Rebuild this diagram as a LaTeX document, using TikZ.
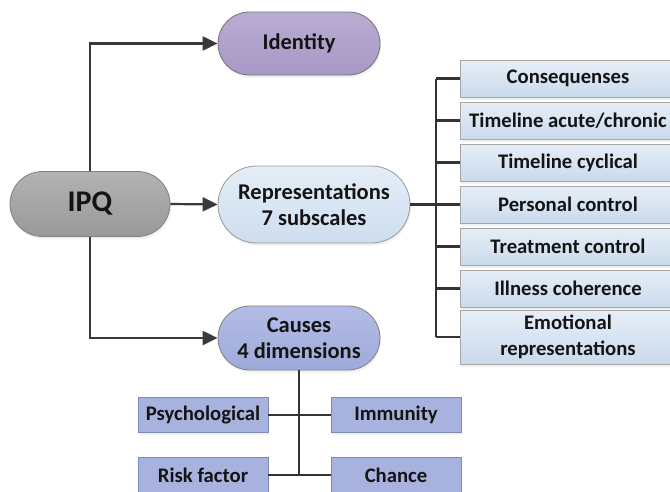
\documentclass[tikz,border=0pt]{standalone}
\usepackage{fontspec}
\setmainfont{Carlito}
\usetikzlibrary{arrows.meta,shadows}
\definecolor{txt}{HTML}{141414}
\definecolor{arr}{HTML}{3A3A3A}
\definecolor{subtop}{HTML}{E6EEF7}
\definecolor{subbot}{HTML}{C9DAEC}
\definecolor{causefill}{HTML}{A8B2DE}
\definecolor{causeedge}{HTML}{7D88B8}
\tikzset{
  shad/.style={drop shadow={opacity=0.12, shadow xshift=1pt, shadow yshift=-2.5pt}},
  pill/.style={draw=#1, line width=0.8pt, align=center, text=txt, font=\bfseries\fontsize{22.5}{25.5}\selectfont, inner sep=0pt, shad},
  subbox/.style={draw=black!35, line width=0.7pt, top color=subtop, bottom color=subbot, minimum width=216, minimum height=37, text=txt, font=\bfseries\fontsize{20.7}{24}\selectfont, align=center, inner sep=0pt, shad},
  causebox/.style={draw=causeedge, line width=0.7pt, fill=causefill, minimum width=130, minimum height=35, text=txt, font=\bfseries\fontsize{20.7}{22}\selectfont, inner sep=0pt, shad},
  arrowline/.style={draw=arr, line width=2.2pt, -{Triangle[length=15pt,width=14pt]}},
  branch/.style={draw=black!80, line width=2.2pt}
}
\begin{document}
\begin{tikzpicture}[x=1pt,y=-1pt]
\useasboundingbox (0,0) rectangle (670,491);
\clip (0,0) rectangle (670,491);
% main nodes
\node[pill=black!50, top color=black!30, bottom color=black!40, minimum width=160, minimum height=65, rounded corners=32.5pt, font=\bfseries\fontsize{30}{32}\selectfont] (ipq) at (90,204) {IPQ};
\node[pill=black!55, top color={rgb,255:red,186;green,172;blue,210}, bottom color={rgb,255:red,168;green,152;blue,198}, minimum width=162, minimum height=63, rounded corners=31.5pt] (idn) at (299,43.5) {Identity};
\node[pill=black!40, top color={rgb,255:red,228;green,237;blue,247}, bottom color={rgb,255:red,206;green,222;blue,239}, minimum width=192, minimum height=77, rounded corners=38.5pt] (rep) at (314,204.5) {Representations\\7 subscales};
\node[pill=black!50, top color={rgb,255:red,178;green,188;blue,230}, bottom color={rgb,255:red,158;green,170;blue,218}, minimum width=162, minimum height=64, rounded corners=32pt] (cau) at (299,338) {Causes\\4 dimensions};
% arrows
\draw[arrowline] (ipq.north) |- (idn.west);
\draw[arrowline] (ipq.east) -- (rep.west);
\draw[arrowline] (ipq.south) |- (cau.west);
% subscales
\node[subbox] (s1) at (568,78.5) {Consequenses};
\node[subbox] (s2) at (568,120.5) {Timeline acute/chronic};
\node[subbox] (s3) at (568,162.5) {Timeline cyclical};
\node[subbox] (s4) at (568,204.5) {Personal control};
\node[subbox] (s5) at (568,246.5) {Treatment control};
\node[subbox] (s6) at (568,288.5) {Illness coherence};
\node[subbox, minimum height=54, font=\bfseries\fontsize{20.7}{26}\selectfont] (s7) at (568,337) {Emotional\\representations};
\coordinate (bx) at (436,204.5);
\draw[branch] (rep.east) -- (bx);
\draw[branch] (s1.west -| bx) -- (s7.west -| bx);
\foreach \i in {1,...,7} \draw[branch] (s\i.west -| bx) -- (s\i.west);
% causes
\node[causebox] (psy) at (203,415) {Psychological};
\node[causebox] (imm) at (396,415) {Immunity};
\node[causebox] (rf) at (203,475) {Risk factor};
\node[causebox] (ch) at (396,475) {Chance};
\draw[branch] (cau.south) -- (cau.south |- rf.east);
\draw[branch] (psy.east) -- (imm.west);
\draw[branch] (rf.east) -- (ch.west);
\end{tikzpicture}
\end{document}
